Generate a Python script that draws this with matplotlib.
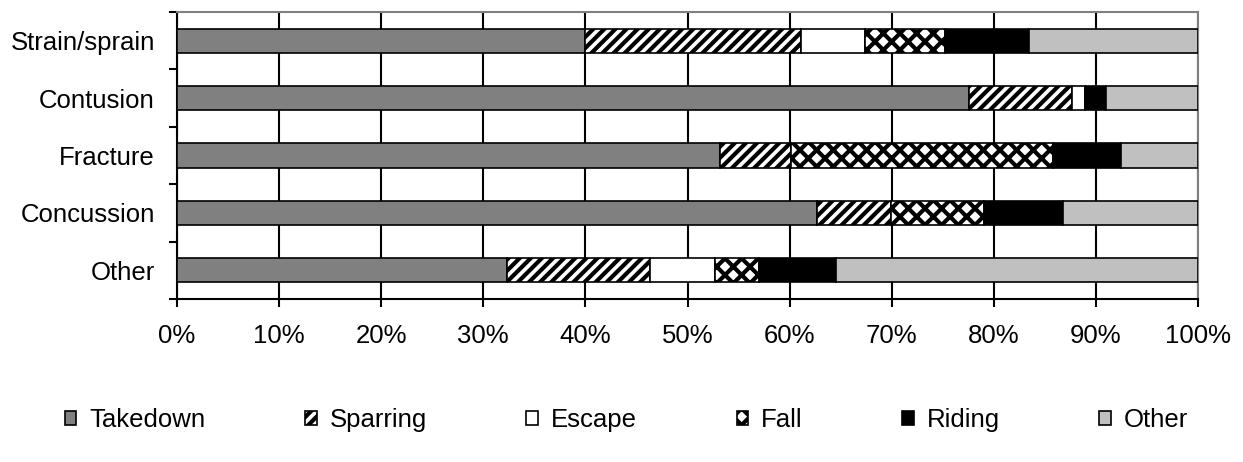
import numpy as np
import matplotlib.pyplot as plt

plt.rcParams['font.family'] = ['Liberation Sans', 'DejaVu Sans']
plt.rcParams['hatch.linewidth'] = 3.0

injuries = ['Strain/sprain', 'Contusion', 'Fracture', 'Concussion', 'Other']
mechanisms = ['Takedown', 'Sparring', 'Escape', 'Fall', 'Riding', 'Other']

# percent share of each mechanism, per injury type
takedown = [40.0, 77.6, 53.2, 62.7, 32.3]
sparring = [21.1, 10.1, 6.9, 7.2, 14.0]
escape = [6.3, 1.2, 0.0, 0.0, 6.4]
fall = [7.8, 0.0, 25.7, 9.1, 4.3]
riding = [8.2, 2.1, 6.7, 7.8, 7.5]
other = [16.6, 9.0, 7.5, 13.2, 35.5]

series = [takedown, sparring, escape, fall, riding, other]
faces = ['#808080', 'white', 'white', 'white', 'black', '#c0c0c0']
hatches = [None, '///', None, 'xx', None, None]

fig = plt.figure(figsize=(12.43, 4.62), dpi=100)
ax = fig.add_axes([0.1424, 0.3528, 0.8214, 0.6212])

y = np.arange(len(injuries))[::-1]
left = np.zeros(len(injuries))
handles = []
for name, vals, fc, h in zip(mechanisms, series, faces, hatches):
    vals = np.array(vals)
    b = ax.barh(y, vals, left=left, height=0.42, color=fc, edgecolor='black',
                linewidth=1.2, hatch=h, label=name, zorder=3)
    handles.append(b)
    left += vals

ax.set_xlim(0, 100)
ax.set_ylim(-0.5, len(injuries) - 0.5)
ax.set_xticks(np.arange(0, 101, 10))
ax.set_xticklabels([f'{v}%' for v in range(0, 101, 10)])
ax.set_yticks(y)
ax.set_yticklabels(injuries)
ax.set_yticks(np.arange(-0.5, len(injuries), 1), minor=True)
ax.tick_params(axis='y', which='major', length=0, pad=16, labelsize=18.5)
ax.tick_params(axis='y', which='minor', length=6, width=1.5, direction='out')
ax.tick_params(axis='x', length=6, width=1.5, direction='out', pad=12, labelsize=18.5)

ax.grid(axis='x', color='black', linewidth=1.5, zorder=0)
ax.set_axisbelow(True)
for s in ['left', 'bottom']:
    ax.spines[s].set_color('black')
    ax.spines[s].set_linewidth(1.5)
for s in ['top', 'right']:
    ax.spines[s].set_color('#808080')
    ax.spines[s].set_linewidth(1.5)

fig.legend(handles=handles, labels=mechanisms, loc='center', ncol=6,
           bbox_to_anchor=(0.504, 0.091), frameon=False, fontsize=18.5,
           handlelength=0.45, handleheight=0.45, handletextpad=0.5,
           columnspacing=3.88)

fig.savefig('out.png', dpi=100)
